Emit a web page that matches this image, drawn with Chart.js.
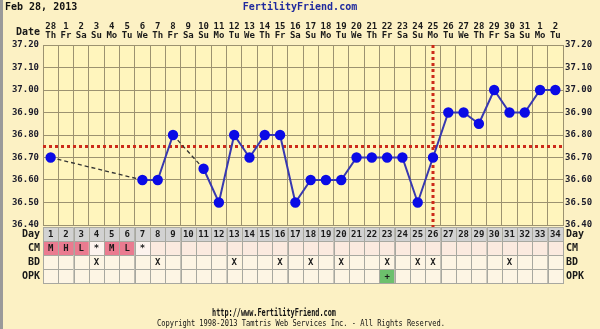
<!DOCTYPE html>
<html lang="en">
<head>
<meta charset="UTF-8">
<title>Fertility chart</title>
<script src="https://cdn.jsdelivr.net/npm/chart.js"></script>
<style>
body { margin: 0; background: #fcf1c4; }
#wrap { width: 600px; height: 329px; }
</style>
</head>
<body>
<div id="wrap"><canvas id="bbt" width="600" height="329"></canvas></div>
<script>
const cycleDays = ['1','2','3','4','5','6','7','8','9','10','11','12','13','14','15','16','17',
  '18','19','20','21','22','23','24','25','26','27','28','29','30','31','32','33','34'];
const dateLabels = ['28','1','2','3','4','5','6','7','8','9','10','11','12','13','14','15','16',
  '17','18','19','20','21','22','23','24','25','26','27','28','29','30','31','1','2'];
const weekdayLabels = ['Th','Fr','Sa','Su','Mo','Tu','We','Th','Fr','Sa','Su','Mo','Tu','We','Th','Fr','Sa',
  'Su','Mo','Tu','We','Th','Fr','Sa','Su','Mo','Tu','We','Th','Fr','Sa','Su','Mo','Tu'];
const temps = [36.70, null, null, null, null, null, 36.60, 36.60, 36.80, null, 36.65, 36.50, 36.80, 36.70,
  36.80, 36.80, 36.50, 36.60, 36.60, 36.60, 36.70, 36.70, 36.70, 36.70, 36.50, 36.70, 36.90, 36.90,
  36.85, 37.00, 36.90, 36.90, 37.00, 37.00];
const coverline = 36.75;
const ovulationDay = '26';
const cmCodes = ['M','H','L','*','M','L','*'];
const bdDays = [4, 8, 13, 16, 18, 20, 23, 25, 26, 31];
const opkPositive = [23];
const rowLabels = ['Day', 'CM', 'BD', 'OPK'];

const FONT = '"DejaVu Sans Mono", monospace';
const gridColor = '#9c9270';
const gap = (ctx, v) => ctx.p0.skip || ctx.p1.skip ? v : undefined;

const backdrop = {
  id: 'backdrop',
  beforeDraw(chart) {
    const c = chart.ctx, a = chart.chartArea;
    c.save();
    c.fillStyle = '#fcf1c4';
    c.fillRect(0, 0, chart.width, chart.height);
    c.fillStyle = '#9a9a9a';
    c.fillRect(0, 0, 3, chart.height);
    c.fillStyle = '#fff5bd';
    c.fillRect(a.left, a.top, a.right - a.left, a.bottom - a.top);
    c.restore();
  }
};

const markers = {
  id: 'markers',
  beforeDatasetsDraw(chart) {
    const c = chart.ctx, a = chart.chartArea, x = chart.scales.x, y = chart.scales.y;
    c.save();
    c.strokeStyle = '#cc2a1a';
    c.lineWidth = 3;
    c.setLineDash([3, 3]);
    const yc = Math.round(y.getPixelForValue(coverline)) + 0.5;
    c.beginPath(); c.moveTo(a.left, yc); c.lineTo(a.right, yc); c.stroke();
    const xo = Math.round(x.getPixelForValue(cycleDays.indexOf(ovulationDay)));
    c.beginPath(); c.moveTo(xo, a.top); c.lineTo(xo, a.bottom + 4); c.stroke();
    c.restore();
  }
};

const table = {
  id: 'table',
  afterDraw(chart) {
    const c = chart.ctx, a = chart.chartArea, x = chart.scales.x;
    const w = (a.right - a.left) / cycleDays.length;
    const top = a.bottom + 2, h = 14;
    c.save();
    c.textAlign = 'center';
    c.textBaseline = 'middle';

    // header dates
    c.fillStyle = '#1a1a1a';
    c.font = 'bold 9px ' + FONT;
    cycleDays.forEach((d, i) => {
      const cx = x.getPixelForValue(i);
      c.fillText(dateLabels[i], cx, 27);
      c.fillText(weekdayLabels[i], cx, 36);
    });
    c.textAlign = 'right';
    c.font = 'bold 10px ' + FONT;
    c.fillText('Date', 40, 32);

    // rows
    rowLabels.forEach((lab, r) => {
      const ry = top + r * h;
      cycleDays.forEach((d, i) => {
        const cx = x.getPixelForValue(i);
        const left = cx - w / 2;
        let fill = '#fdf5e4';
        if (r === 0) fill = '#d2d2d2';
        if (r === 1) {
          const code = cmCodes[i] || '';
          fill = (code === 'M' || code === 'H' || code === 'L') ? '#ea7b90' : (code === '*' ? '#fdf3ee' : '#fbeadf');
        }
        if (r === 3 && opkPositive.includes(i + 1)) fill = '#6cc06c';
        c.fillStyle = fill;
        c.fillRect(left, ry, w, h);
        c.strokeStyle = '#a8a8a0';
        c.lineWidth = 1;
        c.strokeRect(Math.round(left) + 0.5, ry + 0.5, Math.round(w), h);
        c.fillStyle = '#1a1a1a';
        c.textAlign = 'center';
        c.font = 'bold 9px ' + FONT;
        if (r === 0) c.fillText(d, cx, ry + h / 2 + 0.5);
        if (r === 1 && cmCodes[i]) c.fillText(cmCodes[i], cx, ry + h / 2 + 0.5);
        if (r === 2 && bdDays.includes(i + 1)) c.fillText('X', cx, ry + h / 2 + 0.5);
        if (r === 3 && opkPositive.includes(i + 1)) c.fillText('+', cx, ry + h / 2 + 0.5);
      });
      c.fillStyle = '#1a1a1a';
      c.font = 'bold 10px ' + FONT;
      c.textAlign = 'right';
      c.fillText(lab, 40, ry + h / 2 + 0.5);
      c.textAlign = 'left';
      c.fillText(lab, 566, ry + h / 2 + 0.5);
    });

    // titles and footer
    c.textAlign = 'left';
    c.fillStyle = '#111';
    c.fillText('Feb 28, 2013', 5, 7);
    c.textAlign = 'center';
    c.fillStyle = '#1f2a9e';
    c.fillText('FertilityFriend.com', 300, 7);
    c.fillStyle = '#111';
    c.textAlign = 'left';
    c.font = 'bold 10px ' + FONT;
    c.fillText('http://www.FertilityFriend.com', 212, 313, 124);
    c.textAlign = 'center';
    c.font = '8px ' + FONT;
    c.fillText('Copyright 1998-2013 Tamtris Web Services Inc. - All Rights Reserved.', 301, 324, 288);
    c.restore();
  }
};

const yTicks = {
  stepSize: 0.05,
  color: '#1a1a2a',
  font: { family: FONT, size: 9, weight: 'bold' },
  callback: (v, i) => i % 2 ? '' : v.toFixed(2)
};

new Chart(document.getElementById('bbt'), {
  type: 'line',
  data: {
    labels: cycleDays,
    datasets: [{
      data: temps,
      borderColor: '#3838b0',
      borderWidth: 2,
      pointBackgroundColor: '#0b0be6',
      pointBorderColor: '#0b0be6',
      pointRadius: 4.2,
      spanGaps: true,
      segment: {
        borderColor: ctx => gap(ctx, '#333'),
        borderDash: ctx => gap(ctx, [4, 3]),
        borderWidth: ctx => gap(ctx, 1.3)
      }
    }]
  },
  options: {
    responsive: false,
    animation: false,
    layout: { padding: { top: 45, bottom: 104, left: 0, right: 0 } },
    plugins: { legend: { display: false }, tooltip: { enabled: false } },
    scales: {
      x: {
        offset: true,
        grid: { offset: true, color: gridColor, drawTicks: false },
        border: { color: gridColor },
        ticks: { display: false },
        afterFit: s => { s.height = 0; }
      },
      y: {
        min: 36.4, max: 37.2,
        ticks: Object.assign({ padding: 4 }, yTicks),
        grid: { color: gridColor, drawTicks: false },
        border: { color: gridColor },
        afterFit: s => { s.width = 43; }
      },
      y2: {
        position: 'right',
        min: 36.4, max: 37.2,
        ticks: Object.assign({ padding: 2 }, yTicks),
        grid: { display: false, drawTicks: false },
        border: { color: gridColor },
        afterFit: s => { s.width = 37; }
      }
    }
  },
  plugins: [backdrop, markers, table]
});
</script>
</body>
</html>
